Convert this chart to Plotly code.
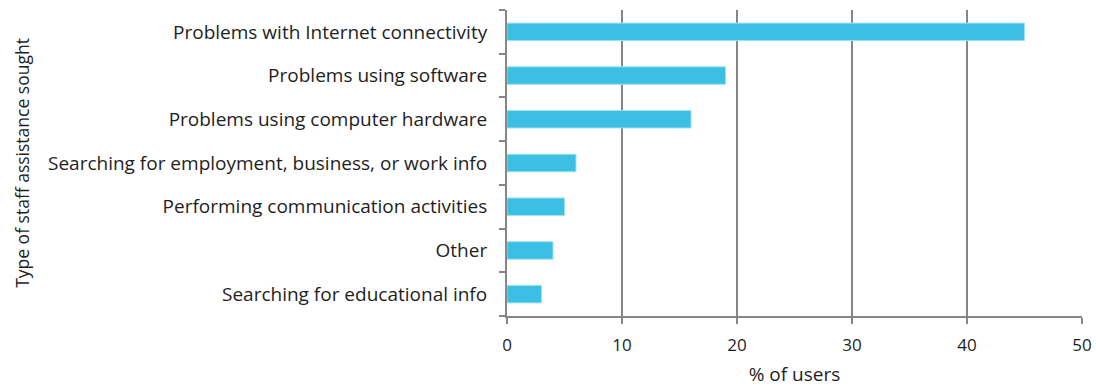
import plotly.graph_objects as go

# Share of users who sought staff assistance, by type of help
categories = [
    "Problems with Internet connectivity",
    "Problems using software",
    "Problems using computer hardware",
    "Searching for employment, business, or work info",
    "Performing communication activities",
    "Other",
    "Searching for educational info",
]
percent_users = [45, 19, 16, 6, 5, 4, 3]
x_ticks = [0, 10, 20, 30, 40, 50]

GRID = "#868686"
BAR = "#3BC0E3"
FONT = "'Open Sans', Lato, sans-serif"

fig = go.Figure(
    go.Bar(
        x=percent_users,
        y=categories,
        orientation="h",
        width=0.4,
        marker=dict(color=BAR, line=dict(color="#9FE0F2", width=1)),
    )
)

fig.update_layout(
    width=1096,
    height=387,
    margin=dict(l=507, r=14, t=10, b=71, autoexpand=False),
    paper_bgcolor="white",
    plot_bgcolor="white",
    showlegend=False,
    font=dict(family=FONT, size=16, color="#1e1e1e"),
)

fig.update_xaxes(
    range=[0, 50],
    tickvals=x_ticks,
    showgrid=True,
    gridcolor=GRID,
    gridwidth=2,
    showline=True,
    linecolor=GRID,
    linewidth=2,
    ticks="outside",
    ticklen=6,
    tickwidth=2,
    tickcolor=GRID,
    zeroline=False,
    ticklabelstandoff=7,
    automargin=False,
    title=dict(text="% of users", standoff=14, font=dict(size=19)),
    tickfont=dict(size=17),
)

fig.update_yaxes(
    categoryorder="array",
    categoryarray=categories[::-1],
    showline=True,
    linecolor=GRID,
    linewidth=2,
    ticks="outside",
    tickson="boundaries",
    ticklen=6,
    tickwidth=2,
    tickcolor=GRID,
    showgrid=False,
    ticklabelstandoff=14,
    automargin=False,
    title=dict(text="Type of staff assistance sought", standoff=14, font=dict(size=17.5)),
    tickfont=dict(size=19),
)

fig.write_html("out.html")
